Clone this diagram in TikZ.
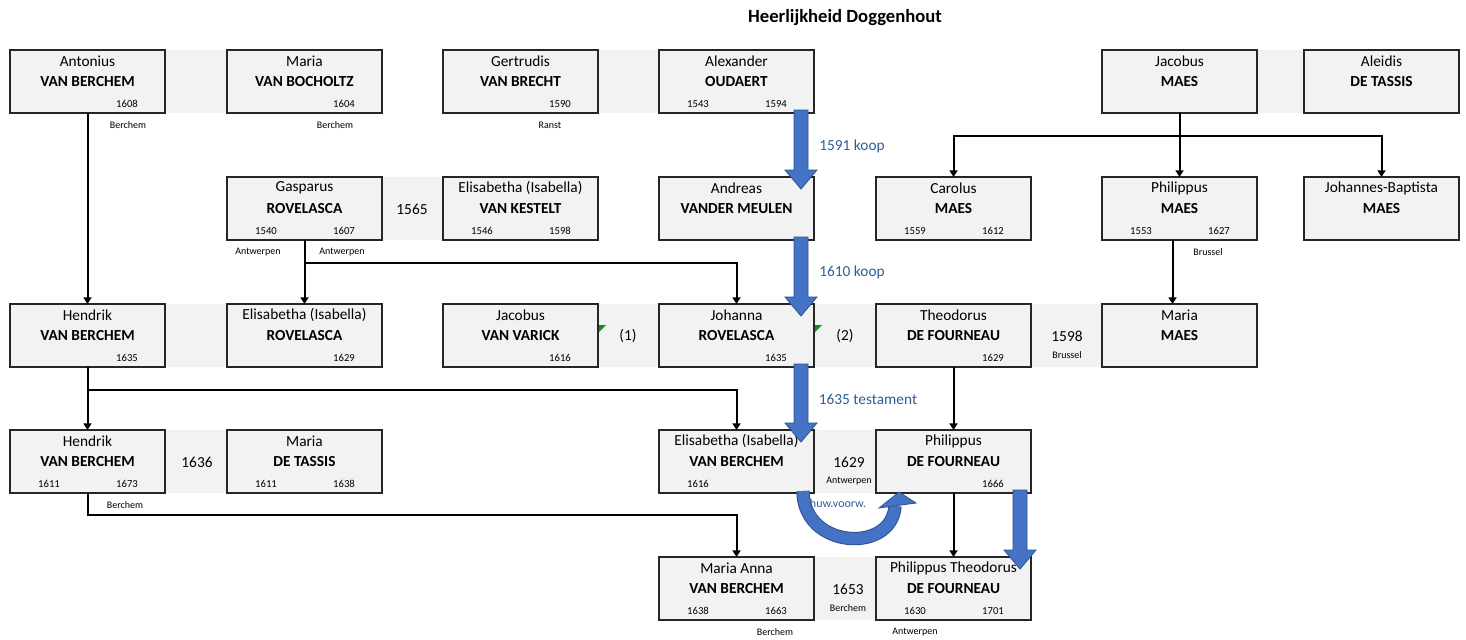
\documentclass[tikz,border=0pt]{standalone}
\usepackage{fontspec}
\setmainfont{Carlito}
\usetikzlibrary{arrows.meta,calc}

\definecolor{celgrijs}{HTML}{F2F2F2}
\definecolor{pijlblauw}{HTML}{4472C4}
\definecolor{pijlrand}{HTML}{2F528F}
\definecolor{tekstblauw}{HTML}{2F5D96}
\definecolor{foutgroen}{HTML}{1E8C1E}

\tikzset{
  persoon/.style={draw=black!85, fill=celgrijs, line width=0.9pt, minimum width=116.25pt,
    minimum height=47.25pt, inner sep=0pt, outer sep=0pt},
  band/.style={fill=celgrijs},
  voornaam/.style={font=\fontsize{11.5}{13}\selectfont, inner sep=0pt},
  familie/.style={font=\bfseries\fontsize{11.5}{13}\selectfont, inner sep=0pt},
  jaartal/.style={font=\fontsize{8}{9}\selectfont, inner sep=0pt},
  plaats/.style={font=\fontsize{7.5}{9}\selectfont, inner sep=0pt},
  huwelijk/.style={font=\fontsize{11.5}{13}\selectfont, inner sep=0pt},
  pijltekst/.style={text=tekstblauw, font=\fontsize{11.5}{13}\selectfont, inner sep=0pt},
  lijn/.style={line width=1.5pt, -{Triangle[length=5pt,width=6pt]}},
  blokpijl/.style={fill=pijlblauw, draw=pijlrand, line width=0.6pt},
  hoekje/.style={fill=foutgroen},
}

% box with first name, surname, birth and death year
\newcommand{\persoon}[7]{%
  \node[persoon, anchor=north west] (#1) at (#2,#3) {};
  \node[voornaam] (#1-vn) at ($(#1.north)+(0,11)$) {#4};
  \node[familie] (#1-fn) at ($(#1.north)+(0,32)$) {#5};
  \node[jaartal] (#1-gb) at ($(#1.north west)+(39,54)$) {#6};
  \node[jaartal] (#1-od) at ($(#1.north west)+(117,54)$) {#7};
}

% thick blue arrow from one box into the next
\newcommand{\overgang}[3]{%
  \coordinate (top) at ($(#1.south east)+(-#3,-3)$);
  \coordinate (tip) at ($(#2.north east)+(-#3,12)$);
  \filldraw[blokpijl] ($(top)+(-7,0)$) -- ($(top)+(7,0)$) -- ($(tip)+(7,-19)$)
    -- ($(tip)+(16,-19)$) -- (tip) -- ($(tip)+(-16,-19)$) -- ($(tip)+(-7,-19)$) -- cycle;
}

\begin{document}
\begin{tikzpicture}[x=0.75pt,y=-0.75pt]
  \useasboundingbox (0,0) rectangle (1466,639);

  % Title
  \node[font=\bfseries\fontsize{14}{16}\selectfont] (titel) at (845,18) {Heerlijkheid Doggenhout};

  % Grey bands behind couples
  \fill[band] (10,50) rectangle (382,113);
  \fill[band] (443,50) rectangle (814,113);
  \fill[band] (1102,50) rectangle (1458,113);
  \fill[band] (227,177) rectangle (598,240);
  \fill[band] (10,304) rectangle (382,367);
  \fill[band] (443,304) rectangle (1257,367);
  \fill[band] (10,430) rectangle (382,493);
  \fill[band] (659,430) rectangle (1031,493);
  \fill[band] (659,557) rectangle (1031,620);

  % Row 1
  \persoon{antonius}{10}{50}{Antonius}{VAN BERCHEM}{}{1608}
  \persoon{mariavb}{227}{50}{Maria}{VAN BOCHOLTZ}{}{1604}
  \persoon{gertrudis}{443}{50}{Gertrudis}{VAN BRECHT}{}{1590}
  \persoon{alexander}{659}{50}{Alexander}{OUDAERT}{1543}{1594}
  \persoon{jacobusm}{1102}{50}{Jacobus}{MAES}{}{}
  \persoon{aleidis}{1304}{50}{Aleidis}{DE TASSIS}{}{}
  \node[plaats] (pl-antonius) at (128,125) {Berchem};
  \node[plaats] (pl-mariavb) at (335,125) {Berchem};
  \node[plaats] (pl-gertrudis) at (550,125) {Ranst};

  % Row 2
  \persoon{gasparus}{227}{177}{Gasparus}{ROVELASCA}{1540}{1607}
  \persoon{elisabethvk}{443}{177}{Elisabetha (Isabella)}{VAN KESTELT}{1546}{1598}
  \persoon{andreas}{659}{177}{Andreas}{VANDER MEULEN}{}{}
  \persoon{carolus}{876}{177}{Carolus}{MAES}{1559}{1612}
  \persoon{philippusm}{1102}{177}{Philippus}{MAES}{1553}{1627}
  \persoon{johannesb}{1304}{177}{Johannes-Baptista}{MAES}{}{}
  \node[huwelijk] (hw-gasparus) at (412,209) {1565};
  \node[plaats] (pl-gasparus1) at (258,252) {Antwerpen};
  \node[plaats] (pl-gasparus2) at (342,252) {Antwerpen};
  \node[plaats] (pl-philippusm) at (1208,252) {Brussel};

  % Row 3
  \persoon{hendrik}{10}{304}{Hendrik}{VAN BERCHEM}{}{1635}
  \persoon{elisabethr}{227}{304}{Elisabetha (Isabella)}{ROVELASCA}{}{1629}
  \persoon{jacobusvv}{443}{304}{Jacobus}{VAN VARICK}{}{1616}
  \persoon{johanna}{659}{304}{Johanna}{ROVELASCA}{}{1635}
  \persoon{theodorus}{876}{304}{Theodorus}{DE FOURNEAU}{}{1629}
  \persoon{mariam}{1102}{304}{Maria}{MAES}{}{}
  \node[huwelijk] (hw-een) at (628,336) {(1)};
  \node[huwelijk] (hw-twee) at (845,336) {(2)};
  \node[huwelijk] (hw-theodorus) at (1067,336) {1598};
  \node[plaats] (pl-theodorus) at (1067,355) {Brussel};
  \fill[hoekje] (599,325) -- (606,325) -- (599,332) -- cycle;
  \fill[hoekje] (815,325) -- (822,325) -- (815,332) -- cycle;

  % Row 4
  \persoon{hendrikjr}{10}{430}{Hendrik}{VAN BERCHEM}{1611}{1673}
  \persoon{mariadt}{227}{430}{Maria}{DE TASSIS}{1611}{1638}
  \persoon{elisabethvb}{659}{430}{Elisabetha (Isabella)}{VAN BERCHEM}{1616}{}
  \persoon{philippusdf}{876}{430}{Philippus}{DE FOURNEAU}{}{1666}
  \node[huwelijk] (hw-hendrikjr) at (197,462) {1636};
  \node[huwelijk] (hw-elisabethvb) at (849,462) {1629};
  \node[plaats] (pl-elisabethvb) at (849,481) {Antwerpen};
  \node[plaats] (pl-hendrikjr) at (125,505) {Berchem};

  % Row 5
  \persoon{mariaanna}{659}{557}{Maria Anna}{VAN BERCHEM}{1638}{1663}
  \persoon{philippust}{876}{557}{Philippus Theodorus}{DE FOURNEAU}{1630}{1701}
  \node[huwelijk] (hw-mariaanna) at (848,589) {1653};
  \node[plaats] (pl-mariaanna1) at (848,608) {Berchem};
  \node[plaats] (pl-mariaanna2) at (775,632) {Berchem};
  \node[plaats] (pl-philippust) at (915,632) {Antwerpen};

  % Descent lines
  \draw[lijn] (antonius.south) -- (hendrik.north);
  \draw[lijn] (gasparus.south) -- (elisabethr.north);
  \draw[lijn] (gasparus.south) -- ++(0,23) -| (johanna.north);
  \draw[line width=1.5pt] (jacobusm.south) -- ++(0,23) coordinate (splits);
  \draw[lijn] (splits) -| (carolus.north);
  \draw[lijn] (splits) -| (johannesb.north);
  \draw[lijn] (splits) -- (philippusm.north);
  \draw[lijn] ($(philippusm.south)+(-7,0)$) -- ($(mariam.north)+(-7,0)$);
  \draw[lijn] (hendrik.south) -- (hendrikjr.north);
  \draw[lijn] (hendrik.south) -- ++(0,23) -| (elisabethvb.north);
  \draw[lijn] (theodorus.south) -- (philippusdf.north);
  \draw[lijn] (hendrikjr.south) -- ++(0,22) -| (mariaanna.north);
  \draw[lijn] (philippusdf.south) -- (philippust.north);

  % Transfers of the lordship
  \overgang{alexander}{andreas}{13}
  \overgang{andreas}{johanna}{13}
  \overgang{johanna}{elisabethvb}{13}
  \overgang{philippusdf}{philippust}{11}
  \node[pijltekst] (koop1) at (852,146) {1591 koop};
  \node[pijltekst] (koop2) at (852,272) {1610 koop};
  \node[pijltekst] (testament) at (868,399) {1635 testament};

  % Marriage contract
  \coordinate (hv-start) at ($(elisabethvb.south east)+(-11,-2)$);
  \coordinate (hv-eind) at ($(philippusdf.south west)+(19,13)$);
  \draw[pijlrand, line width=10pt] (hv-start) .. controls +(0,58) and +(-3,48) .. (hv-eind);
  \draw[pijlblauw, line width=8.5pt] (hv-start) .. controls +(0,58) and +(-3,48) .. (hv-eind);
  \filldraw[blokpijl] ($(hv-eind)+(-16,2)$) -- ($(hv-eind)+(4,-14)$) -- ($(hv-eind)+(21,-3)$) -- cycle;
  \node[pijltekst, font=\fontsize{9}{10}\selectfont] (huw) at (838,503) {huw.voorw.};
\end{tikzpicture}
\end{document}
